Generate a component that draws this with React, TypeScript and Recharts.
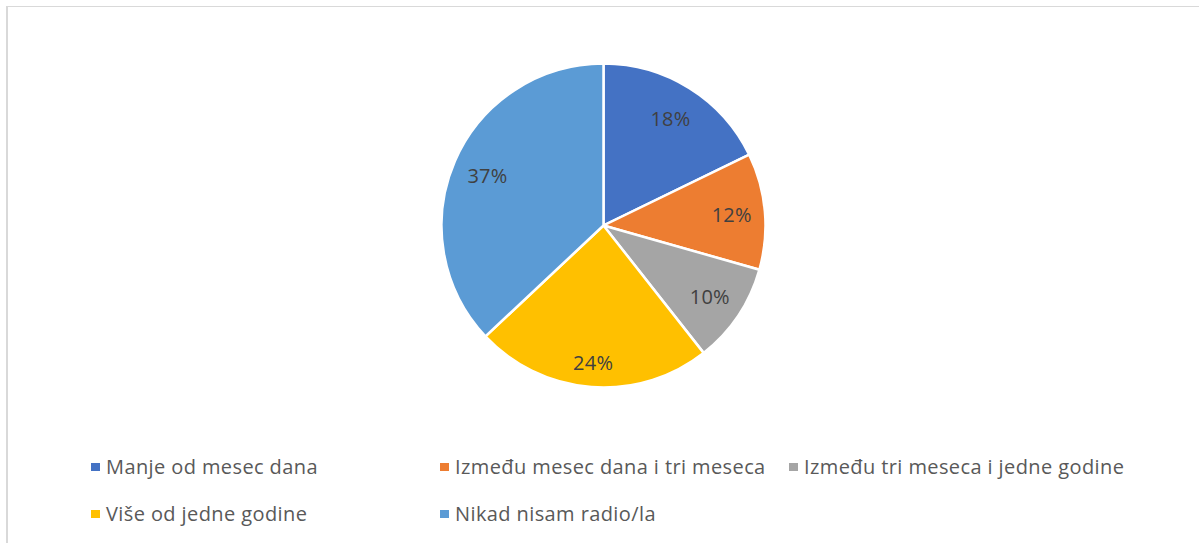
import React from "react";
import { PieChart, Pie, Cell, Legend } from "recharts";

const categories = [
  "Manje od mesec dana",
  "Između mesec dana i tri meseca",
  "Između tri meseca i jedne godine",
  "Više od jedne godine",
  "Nikad nisam radio/la",
];
const shares = [17.8, 11.6, 10.0, 23.6, 37.0];
const percentLabels = ["18%", "12%", "10%", "24%", "37%"];
const colors = ["#4472C4", "#ED7D31", "#A5A5A5", "#FFC000", "#5B9BD5"];

// label placement (style): fraction of outer radius per slice
const labelRadiusFactor = [0.78, 0.795, 0.79, 0.845, 0.78];

const data = categories.map((name, i) => ({ name, value: shares[i], label: percentLabels[i] }));

const FONT = "'Open Sans', 'Noto Sans', sans-serif";
const RAD = Math.PI / 180;

const renderLabel = (props: any) => {
  const { cx, cy, midAngle, outerRadius, index } = props;
  const r = outerRadius * labelRadiusFactor[index];
  const x = cx + r * Math.cos(-midAngle * RAD);
  const y = cy + r * Math.sin(-midAngle * RAD);
  return (
    <text
      x={x}
      y={y}
      fill="#404040"
      fontSize={20}
      letterSpacing={0.3}
      fontFamily={FONT}
      textAnchor="middle"
      dominantBaseline="central"
    >
      {percentLabels[index]}
    </text>
  );
};

const renderLegend = () => {
  return (
    <div style={{ position: "relative", width: 1191, height: 100 }}>
      {categories.map((name, i) => {
        const col = i < 3 ? i : i - 3;
        const row = i < 3 ? 0 : 1;
        return (
          <div
            key={name}
            style={{
              position: "absolute",
              left: 83 + col * 349,
              top: row * 47,
              display: "flex",
              alignItems: "center",
              fontFamily: FONT,
              fontSize: 20,
              letterSpacing: 0.4,
              color: "#595959",
              whiteSpace: "nowrap",
              lineHeight: "24px",
            }}
          >
            <span
              style={{
                display: "inline-block",
                width: 9,
                height: 8,
                background: colors[i],
                marginRight: 6,
              }}
            />
            {name}
          </div>
        );
      })}
    </div>
  );
};

export default function App() {
  return (
    <div
      style={{
        position: "absolute",
        left: 0,
        top: 0,
        width: 1199,
        height: 543,
        background: "#fff",
      }}
    >
      <div style={{ position: "absolute", left: 8, top: 7 }}>
        <PieChart width={1191} height={536} margin={{ top: 0, right: 0, bottom: 0, left: 0 }}>
          <Pie
            data={data}
            dataKey="value"
            nameKey="name"
            cx={595.5}
            cy={218.5}
            outerRadius={162}
            startAngle={90}
            endAngle={-270}
            stroke="#ffffff"
            strokeWidth={2.5}
            label={renderLabel}
            labelLine={false}
            isAnimationActive={false}
          >
            {data.map((d, i) => (
              <Cell key={d.name} fill={colors[i]} />
            ))}
          </Pie>
          <Legend
            content={renderLegend}
            wrapperStyle={{ position: "absolute", left: 0, top: 448, width: 1191 }}
          />
        </PieChart>
      </div>
      <div style={{ position: "absolute", left: 6, top: 6, width: 1193, height: 1, background: "#d9d9d9", zIndex: 5 }} />
      <div style={{ position: "absolute", left: 6, top: 6, width: 2, height: 537, background: "#d9d9d9", zIndex: 5 }} />
    </div>
  );
}
